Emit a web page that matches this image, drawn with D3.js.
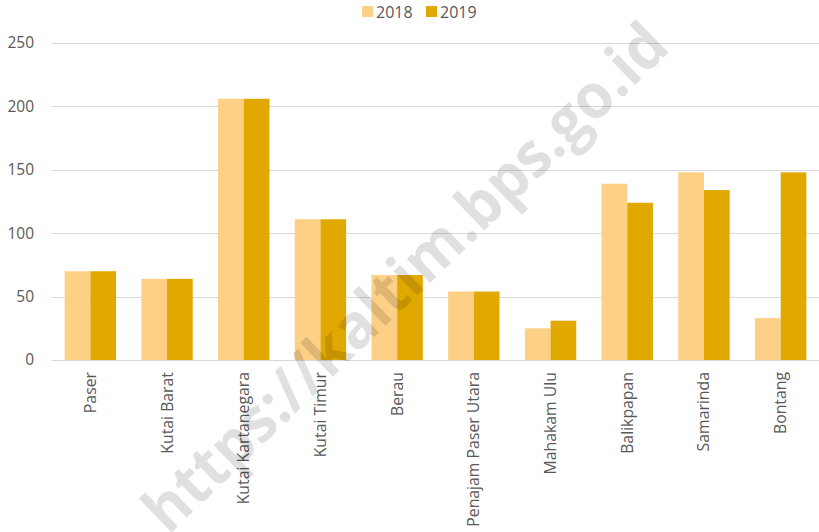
<!DOCTYPE html>
<html>
<head>
<meta charset="utf-8">
<script src="https://cdn.jsdelivr.net/npm/d3@7"></script>
<style>
  body { margin: 0; background: #fff; }
  text { font-family: "Open Sans", sans-serif; }
</style>
</head>
<body>
<div id="chart"></div>
<script>
    const regions = ["Paser", "Kutai Barat", "Kutai Kartanegara", "Kutai Timur", "Berau",
      "Penajam Paser Utara", "Mahakam Ulu", "Balikpapan", "Samarinda", "Bontang"];
    const years = ["2018", "2019"];
    const values2018 = [70, 64, 206, 111, 67, 54, 25, 139, 148, 33];
    const values2019 = [70, 64, 206, 111, 67, 54, 31, 124, 134, 148];
    const yTicks = [0, 50, 100, 150, 200, 250];
    const colors = { "2018": "#FDD085", "2019": "#E1A900" };

    const W = 819, H = 532;
    const margin = { top: 43, right: 0, bottom: 172, left: 52 };
    const width = W - margin.left - margin.right;
    const height = H - margin.top - margin.bottom;

    const svg = d3.select("#chart").append("svg")
      .attr("width", W)
      .attr("height", H);
    const g = svg.append("g").attr("transform", `translate(${margin.left},${margin.top})`);

    const x = d3.scaleBand().domain(regions).range([0, width]).paddingInner(0.33).paddingOuter(0.165);
    const xs = d3.scaleBand().domain(years).range([0, x.bandwidth()]);
    const y = d3.scaleLinear().domain([0, 250]).range([height, 0]);

    // gridlines
    g.selectAll(".grid")
      .data(yTicks)
      .enter().append("line")
      .attr("x1", 0)
      .attr("x2", width)
      .attr("y1", d => Math.round(y(d)) + 0.5)
      .attr("y2", d => Math.round(y(d)) + 0.5)
      .attr("stroke", "#d9d9d9")
      .attr("stroke-width", 1);

    // y labels
    g.selectAll(".ylab")
      .data(yTicks)
      .enter().append("text")
      .attr("x", -18)
      .attr("y", d => y(d))
      .attr("dy", "0.35em")
      .attr("text-anchor", "end")
      .attr("fill", "#595959")
      .style("font-size", "15.5px")
      .text(d => d);

    const table = regions.map((r, i) => ({ region: r, "2018": values2018[i], "2019": values2019[i] }));

    const groups = g.selectAll(".grp")
      .data(table)
      .enter().append("g")
      .attr("transform", d => `translate(${x(d.region)},0)`);

    groups.selectAll("rect")
      .data(d => years.map(k => ({ key: k, value: d[k] })))
      .enter().append("rect")
      .attr("x", d => xs(d.key))
      .attr("y", d => y(d.value))
      .attr("width", xs.bandwidth())
      .attr("height", d => height - y(d.value))
      .attr("fill", d => colors[d.key]);

    // x labels, rotated
    g.selectAll(".xlab")
      .data(regions)
      .enter().append("text")
      .attr("transform", d => `translate(${x(d) + x.bandwidth() / 2},${height + 12}) rotate(-90)`)
      .attr("dy", "0.35em")
      .attr("text-anchor", "end")
      .attr("fill", "#595959")
      .style("font-size", "15.8px")
      .text(d => d);

    // legend
    const legend = svg.append("g").attr("transform", "translate(362,0)");
    years.forEach((k, i) => {
      const lg = legend.append("g").attr("transform", `translate(${i * 64},0)`);
      lg.append("rect")
        .attr("x", 0).attr("y", 6)
        .attr("width", 11).attr("height", 11)
        .attr("fill", colors[k]);
      lg.append("text")
        .attr("x", 14).attr("y", 12)
        .attr("dy", "0.35em")
        .attr("fill", "#595959")
        .style("font-size", "16px")
        .text(k);
    });

    // watermark
    svg.append("text")
      .attr("transform", "translate(405,277) rotate(-44)")
      .attr("text-anchor", "middle")
      .attr("dy", "0.35em")
      .attr("fill", "#000")
      .attr("fill-opacity", 0.12)
      .attr("textLength", 700)
      .attr("lengthAdjust", "spacingAndGlyphs")
      .style("font-size", "62px")
      .style("font-weight", "bold")
      .text("https://kaltim.bps.go.id");
</script>
</body>
</html>
